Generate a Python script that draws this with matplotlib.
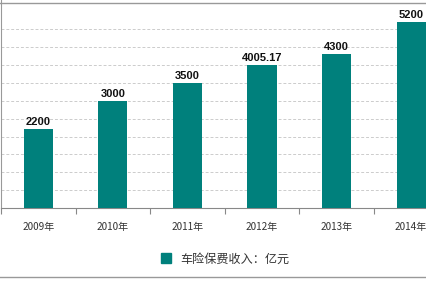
import matplotlib.pyplot as plt
from matplotlib.lines import Line2D

plt.rcParams['font.family'] = ['Noto Sans CJK SC', 'DejaVu Sans']

# data
years = ['2009年', '2010年', '2011年', '2012年', '2013年', '2014年']
income = [2200, 3000, 3500, 4005.17, 4300, 5200]
value_labels = ['2200', '3000', '3500', '4005.17', '4300', '5200']
grid_levels = [500, 1000, 1500, 2000, 2500, 3000, 3500, 4000, 4500, 5000]

teal = '#00807c'

fig = plt.figure(figsize=(4.26, 2.84), dpi=100)
ax = fig.add_axes([1 / 426, 76 / 284, 425 / 426, 208 / 284])

x = list(range(len(years)))
ax.bar(x, income, width=0.39, color=teal, zorder=3)

for xi, v, lab in zip(x, income, value_labels):
    ax.text(xi, v + 60, lab, ha='center', va='bottom', fontsize=8,
            fontweight='bold', family='Liberation Sans', color='#111111', zorder=4)

for g in grid_levels:
    ax.axhline(g, color='#cccccc', lw=0.7, ls=(0, (3, 2)), zorder=1)

ax.set_xlim(-0.5, 5.2)
ax.set_ylim(0, 5820)

ax.set_yticks([])
ax.set_xticks(x)
ax.set_xticklabels(years, fontsize=7.2, color='#333333')
ax.tick_params(axis='x', which='major', length=0, pad=10)
ax.set_xticks([i + 0.5 for i in range(-1, 5)], minor=True)
ax.tick_params(axis='x', which='minor', length=4, color='#888888', width=0.8)

for s in ['top', 'right']:
    ax.spines[s].set_visible(False)
ax.spines['left'].set_color('#999999')
ax.spines['bottom'].set_color('#888888')

# legend
leg_handle = Line2D([], [], marker='s', ls='', color=teal, markersize=6.5)
fig.legend([leg_handle], ['车险保费收入：亿元'], loc='center',
           bbox_to_anchor=(222 / 426, 1 - 259 / 284), frameon=False,
           fontsize=8.7, handletextpad=0.2, labelcolor='#333333')

# outer border lines
fig.add_artist(Line2D([0, 1], [1 - 3 / 284, 1 - 3 / 284], color='#999999', lw=1))
fig.add_artist(Line2D([0, 1], [1 - 277 / 284, 1 - 277 / 284], color='#999999', lw=1))

fig.savefig('out.png', dpi=100)
